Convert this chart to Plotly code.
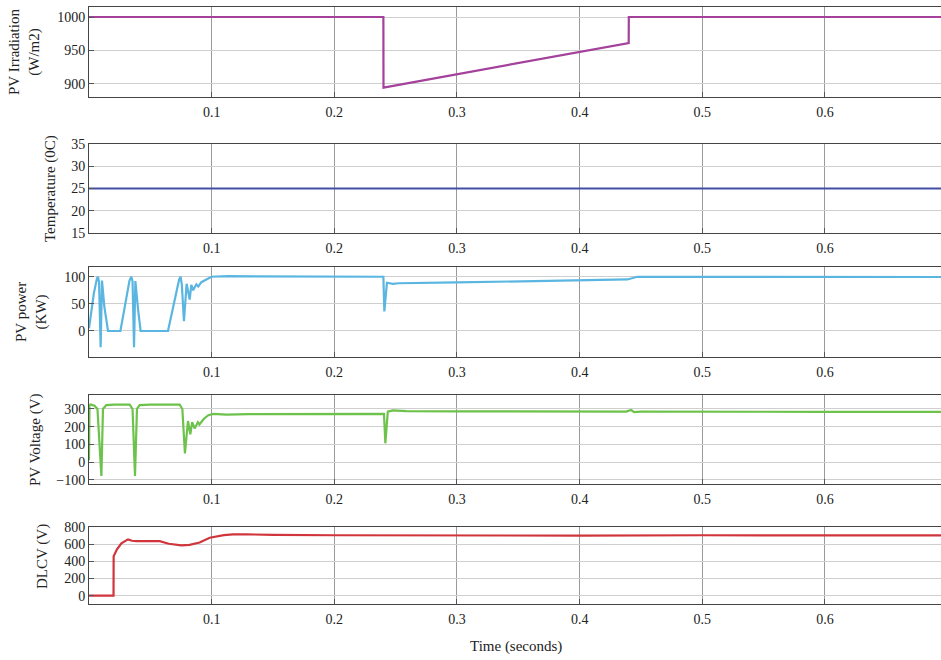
import plotly.graph_objects as go

# ---- simulation traces (time in seconds) ----
irr_t = [0, 0.240, 0.2401, 0.440, 0.4401, 0.70]
irr_g = [1000, 1000, 894, 961, 1000, 1000]

temp_t = [0, 0.70]
temp_c = [25, 25]

pow_t = [0, 0.0040, 0.0065, 0.0073, 0.0082, 0.0095, 0.0106, 0.0125, 0.0155, 0.0256,
         0.0300, 0.0330, 0.0345, 0.0355, 0.0367, 0.0378, 0.0400, 0.0421,
         0.0644, 0.0700, 0.0735, 0.0747, 0.0757, 0.0774, 0.0796, 0.0821, 0.0834, 0.0849,
         0.0875, 0.0891, 0.0916, 0.0957, 0.0998, 0.113, 0.15, 0.20, 0.2400, 0.2408,
         0.2429, 0.2478, 0.2526, 0.30, 0.35, 0.40, 0.439, 0.447, 0.50, 0.60, 0.70]
pow_kw = [5, 70, 97, 100, 90, -30, 93, 45, 0, 0,
          55, 93, 100, 92, -30, 92, 40, 0,
          0, 60, 95, 100, 85, 18, 87, 58, 85, 75,
          86, 82, 90, 95, 100, 101, 100.5, 100, 100, 36,
          89, 87, 88, 89.5, 91, 93, 95, 100, 100, 99.5, 99.5]

volt_t = [0, 0.0004, 0.0013, 0.0045, 0.0069, 0.0101, 0.0114, 0.0141, 0.0204, 0.0332,
          0.0355, 0.0375, 0.0391, 0.0413, 0.0500, 0.0739, 0.0761, 0.0782, 0.0807, 0.0826,
          0.0841, 0.0861, 0.0888, 0.0900, 0.0937, 0.0973, 0.1013, 0.112, 0.13, 0.20,
          0.2405, 0.2416, 0.2436, 0.2477, 0.2587, 0.30, 0.40, 0.438, 0.442, 0.4445,
          0.45, 0.50, 0.60, 0.70]
volt_v = [10, 322, 325, 318, 300, -79, 300, 322, 325, 325,
          300, -79, 300, 322, 325, 325, 300, 49, 232, 157,
          225, 190, 225, 212, 245, 265, 272, 268, 271, 272,
          272, 106, 285, 292, 288, 287, 286, 285, 294, 282,
          285, 286, 284, 284]

dlcv_t = [0, 0.0200, 0.0201, 0.0228, 0.0264, 0.0318, 0.0350, 0.0386, 0.0576, 0.0650,
          0.0753, 0.0820, 0.0902, 0.0984, 0.1100, 0.1174, 0.128, 0.15, 0.20, 0.25,
          0.27, 0.30, 0.40, 0.50, 0.60, 0.70]
dlcv_v = [0, 0, 460, 540, 610, 656, 640, 635, 635, 605,
          585, 592, 620, 675, 705, 714, 715, 708, 704, 702,
          697, 702, 700, 704, 700, 702]

x_ticks = [0.1, 0.2, 0.3, 0.4, 0.5, 0.6]
x_labels = ["0.1", "0.2", "0.3", "0.4", "0.5", "0.6"]

W, H = 941, 660
LEFT = 89
FONT = "Liberation Serif"

# panels: (t, y, colour, y range, y ticks, top px, bottom px, label, label x px, label y px)
panels = [
    (irr_t, irr_g, "#a3419b", [880, 1015], [900, 950, 1000], 7, 97,
     "PV Irradiation<br>(W/m2)", 25, 52),
    (temp_t, temp_c, "#434ea6", [15, 35], [15, 20, 25, 30, 35], 144, 233,
     "Temperature (0C)", 50, 189),
    (pow_t, pow_kw, "#5ab6e1", [-48, 118], [0, 50, 100], 267, 357,
     "PV power<br>(KW)", 32, 312),
    (volt_t, volt_v, "#6cc24a", [-124, 379], [-100, 0, 100, 200, 300], 395, 484,
     "PV Voltage (V)", 35, 440),
    (dlcv_t, dlcv_v, "#d1353c", [-97, 800], [0, 200, 400, 600, 800], 527, 604,
     "DLCV (V)", 42, 557),
]

fig = go.Figure()
annotations = []
plot_w = W - LEFT

for i, (t, y, col, yr, yt, top, bot, label, lx, ly) in enumerate(panels, start=1):
    xa = "x" if i == 1 else f"x{i}"
    ya = "y" if i == 1 else f"y{i}"
    fig.add_trace(go.Scatter(x=t, y=y, mode="lines", xaxis=xa, yaxis=ya,
                             line=dict(color=col, width=2.2), showlegend=False))
    xkey = "xaxis" if i == 1 else f"xaxis{i}"
    ykey = "yaxis" if i == 1 else f"yaxis{i}"
    fig.layout[xkey] = dict(
        domain=[0, 1], anchor=ya, range=[0, (W - LEFT + 0.3) / 1227.0],
        tickvals=x_ticks, ticktext=x_labels, ticks="inside", ticklen=5,
        tickcolor="#555", showgrid=True, gridcolor="#9a9a9a", gridwidth=1,
        showline=True, linecolor="#444", linewidth=1, mirror=True,
        zeroline=False, ticklabelstandoff=2, automargin=False,
        tickfont=dict(family=FONT, size=14, color="#222"))
    fig.layout[ykey] = dict(
        domain=[1 - bot / H, 1 - top / H], anchor=xa, range=yr,
        tickvals=yt, ticks="inside", ticklen=5, tickcolor="#555",
        showgrid=True, gridcolor="#cfcfcf", gridwidth=1,
        showline=True, linecolor="#444", linewidth=1, mirror=True,
        zeroline=False, automargin=False,
        tickfont=dict(family=FONT, size=14, color="#222"))
    annotations.append(dict(
        text=label, textangle=-90, xref="paper", yref="paper",
        x=(lx - LEFT) / plot_w, y=1 - ly / H, xanchor="center", yanchor="middle",
        showarrow=False, font=dict(family=FONT, size=15, color="#222")))

annotations.append(dict(
    text="Time (seconds)", xref="paper", yref="paper",
    x=(516 - LEFT) / plot_w, y=1 - 646 / H, xanchor="center", yanchor="middle",
    showarrow=False, font=dict(family=FONT, size=15, color="#222")))

fig.update_layout(
    width=W, height=H,
    margin=dict(l=LEFT, r=0, t=0, b=0, autoexpand=False),
    paper_bgcolor="white", plot_bgcolor="white",
    annotations=annotations,
)

fig.write_html("out.html")
